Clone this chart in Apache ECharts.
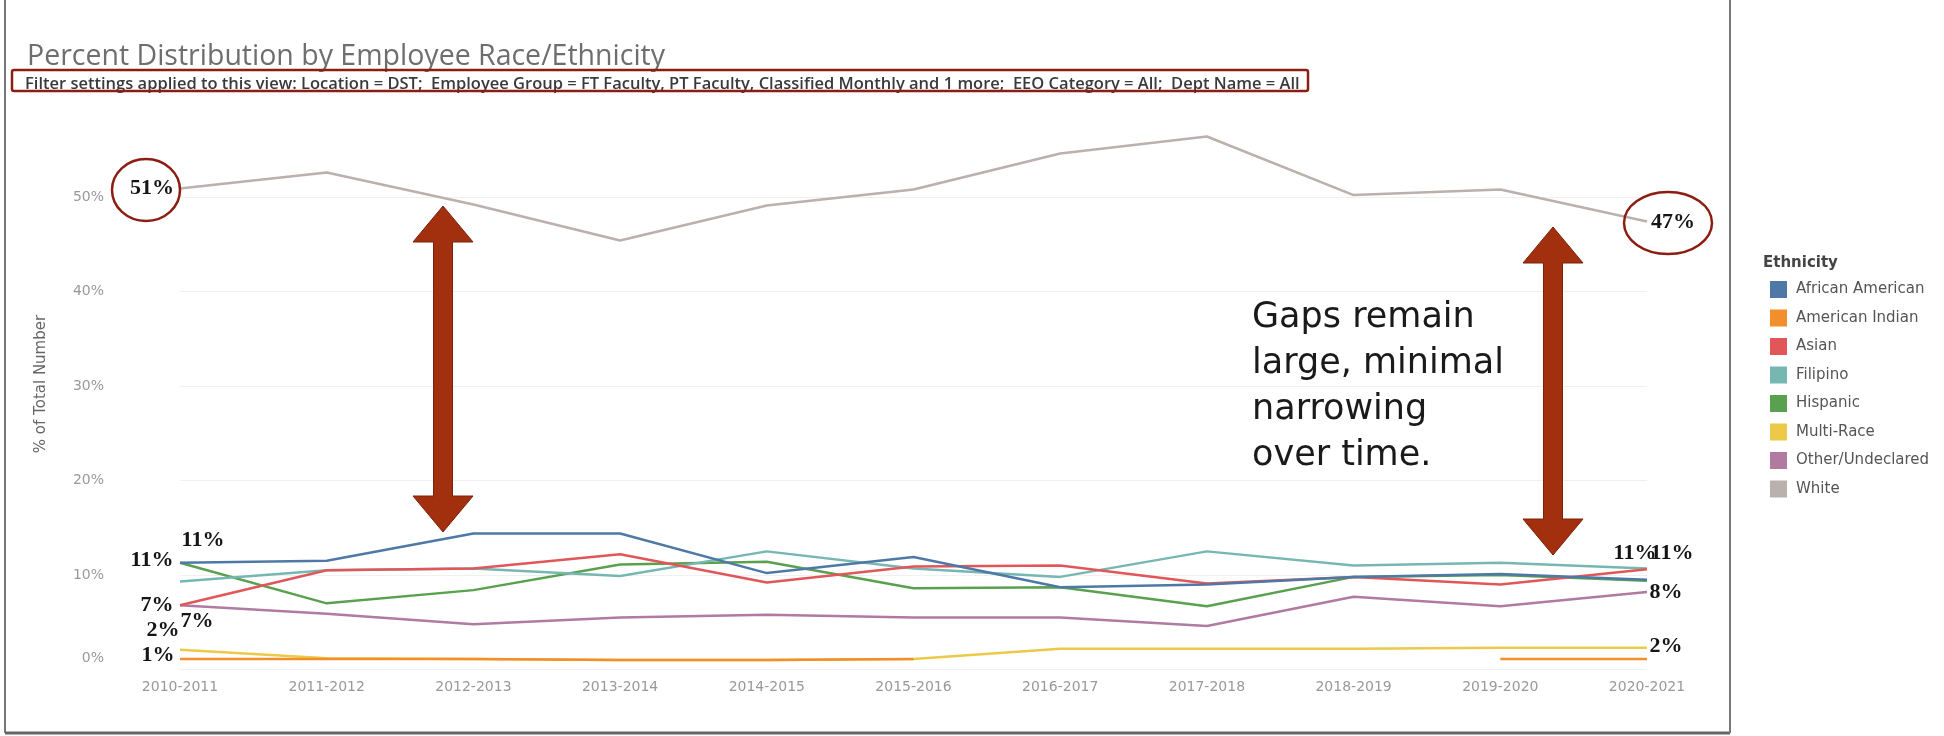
<!DOCTYPE html>
<html>
<head>
<meta charset="utf-8">
<script src="https://cdn.jsdelivr.net/npm/echarts@6/dist/echarts.min.js"></script>
<style>
  html, body { margin: 0; padding: 0; background: #fff; }
  #chart { width: 1944px; height: 736px; }
</style>
</head>
<body>
<div id="chart"></div>
<script>
// school years on the x axis
const years = ['2010-2011', '2011-2012', '2012-2013', '2013-2014', '2014-2015', '2015-2016',
  '2016-2017', '2017-2018', '2018-2019', '2019-2020', '2020-2021'];

// percent of total
const africanAmerican = [11.3, 11.5, 14.4, 14.4, 10.2, 11.9, 8.7, 9.0, 9.8, 10.1, 9.5];
const americanIndian = [1.1, 1.1, 1.1, 1.0, 1.0, 1.1, null, null, null, 1.1, 1.1];
const asian = [6.8, 10.5, 10.7, 12.2, 9.2, 10.9, 11.0, 9.1, 9.8, 9.0, 10.6];
const filipino = [9.3, 10.5, 10.7, 9.9, 12.5, 10.7, 9.8, 12.5, 11.0, 11.3, 10.7];
const hispanic = [11.3, 7.0, 8.4, 11.1, 11.4, 8.6, 8.7, 6.7, 9.8, 10.0, 9.4];
const multiRace = [2.1, 1.2, 1.1, 1.0, 1.0, 1.1, 2.2, 2.2, 2.2, 2.3, 2.3];
const otherUndeclared = [6.8, 5.9, 4.8, 5.5, 5.8, 5.5, 5.5, 4.6, 7.7, 6.7, 8.2];
const white = [50.9, 52.6, 49.2, 45.4, 49.1, 50.8, 54.6, 56.4, 50.2, 50.8, 47.4];

const yTicks = [0, 10, 20, 30, 40, 50];

const legendNames = ['African American', 'American Indian', 'Asian', 'Filipino',
  'Hispanic', 'Multi-Race', 'Other/Undeclared', 'White'];

const colors = {
  'African American': '#4e79a7',
  'American Indian': '#f28e2b',
  'Asian': '#e15759',
  'Filipino': '#76b7b2',
  'Hispanic': '#59a14f',
  'Multi-Race': '#edc948',
  'Other/Undeclared': '#b07aa1',
  'White': '#bab0ac'
};

// hand placed value callouts: [index, dx, dy]
const callouts = {
  'White': [[0, -28, 0], [10, 26, 1]],
  'Hispanic': [[0, -28, -2]],
  'African American': [[0, 23, -22]],
  'Asian': [[0, -23, 0], [10, -12, -16]],
  'Other/Undeclared': [[0, 17, 16], [10, 19, 0]],
  'Multi-Race': [[0, -17, -19], [10, 19, -1]],
  'American Indian': [[0, -22, -4]],
  'Filipino': [[10, 25, -15]]
};

// drawing order: later ones sit on top
const drawOrder = [
  ['White', white],
  ['Other/Undeclared', otherUndeclared],
  ['Multi-Race', multiRace],
  ['Hispanic', hispanic],
  ['Filipino', filipino],
  ['Asian', asian],
  ['American Indian', americanIndian],
  ['African American', africanAmerican]
];

const chart = echarts.init(document.getElementById('chart'));

function buildSeries(name, values) {
  const marks = callouts[name] || [];
  const data = values.map((v, i) => {
    const m = marks.find(c => c[0] === i);
    if (!m || v == null) return v;
    return {
      value: v,
      label: { show: true, position: 'inside', offset: [m[1], m[2]] }
    };
  });
  return {
    name: name,
    type: 'line',
    data: data,
    color: colors[name],
    symbol: 'circle',
    symbolSize: 0,
    showSymbol: true,
    lineStyle: { width: 2.5, color: colors[name] },
    emphasis: { disabled: true },
    label: {
      show: false,
      fontFamily: 'Liberation Serif',
      fontWeight: 'bold',
      fontSize: 22,
      color: '#151515',
      formatter: p => Math.round(p.value) + '%'
    }
  };
}

function arrow(cx, top, bottom) {
  const hw = 30, hl = 36, sw = 9.5;
  return {
    type: 'polygon',
    shape: {
      points: [
        [cx, top], [cx + hw, top + hl], [cx + sw, top + hl], [cx + sw, bottom - hl],
        [cx + hw, bottom - hl], [cx, bottom], [cx - hw, bottom - hl], [cx - sw, bottom - hl],
        [cx - sw, top + hl], [cx - hw, top + hl]
      ]
    },
    style: { fill: '#a2300f', stroke: '#7c220a', lineWidth: 1 },
    z: 20
  };
}

const option = {
  animation: false,
  backgroundColor: '#fff',
  title: {
    text: 'Percent Distribution by Employee Race/Ethnicity',
    left: 22,
    top: 37,
    textStyle: { fontFamily: 'Open Sans', fontSize: 28.5, fontWeight: 'normal', color: '#6e6e6e' }
  },
  legend: {
    data: legendNames,
    orient: 'vertical',
    left: 1765,
    top: 276,
    icon: 'rect',
    itemWidth: 17,
    itemHeight: 17,
    itemGap: 11.5,
    selectedMode: false,
    textStyle: { fontFamily: 'DejaVu Sans', fontSize: 15, color: '#555', padding: [0, 0, 0, 4] }
  },
  grid: { left: 180, right: 297, top: 130.85, bottom: 66.5 },
  xAxis: {
    type: 'category',
    data: years,
    boundaryGap: false,
    axisLine: { show: false },
    axisTick: { show: false },
    axisLabel: { margin: 11, fontFamily: 'DejaVu Sans', fontSize: 14, color: '#999' }
  },
  yAxis: {
    type: 'value',
    min: 0,
    max: 57,
    interval: 10,
    axisLine: { show: false },
    axisTick: { show: false },
    splitLine: { show: true, showMaxLine: false, lineStyle: { color: '#f0f0f0', width: 1 } },
    axisLabel: {
      margin: 76,
      fontFamily: 'DejaVu Sans',
      fontSize: 14,
      color: '#999',
      formatter: v => {
        if (yTicks.indexOf(v) < 0) return '';
        return v === 0 ? '{z|0%}' : v + '%';
      },
      rich: { z: { fontFamily: 'DejaVu Sans', fontSize: 14, color: '#999', padding: [0, 0, 22, 0] } }
    }
  },
  graphic: [
    // chart frame
    { type: 'line', shape: { x1: 5, y1: 0, x2: 5, y2: 733 }, style: { stroke: '#777', lineWidth: 2 } },
    { type: 'line', shape: { x1: 5, y1: 733, x2: 1730, y2: 733 }, style: { stroke: '#666', lineWidth: 3 } },
    { type: 'line', shape: { x1: 1730, y1: 0, x2: 1730, y2: 733 }, style: { stroke: '#777', lineWidth: 2 } },
    // filter note and its box
    {
      type: 'text', x: 25, y: 84,
      style: {
        text: 'Filter settings applied to this view: Location = DST;  Employee Group = FT Faculty, PT Faculty, Classified Monthly and 1 more;  EEO Category = All;  Dept Name = All',
        fontFamily: 'Open Sans', fontSize: 16.5, fontWeight: 600, fill: '#3a3a3a', verticalAlign: 'middle'
      }
    },
    {
      type: 'rect', shape: { x: 12, y: 70, width: 1296, height: 21, r: 2 },
      style: { fill: 'none', stroke: '#8b1d12', lineWidth: 2.5 }, z: 10
    },
    // y axis title
    {
      type: 'text', x: 41, y: 384, rotation: Math.PI / 2,
      style: {
        text: '% of Total Number', fontFamily: 'DejaVu Sans', fontSize: 15, fill: '#666',
        align: 'center', verticalAlign: 'middle'
      }
    },
    // legend title
    {
      type: 'text', x: 1763, y: 263,
      style: { text: 'Ethnicity', fontFamily: 'DejaVu Sans', fontSize: 15, fontWeight: 'bold', fill: '#444', verticalAlign: 'middle' }
    },
    // annotations
    { type: 'ellipse', shape: { cx: 146, cy: 190, rx: 34, ry: 31 }, style: { fill: 'none', stroke: '#8b1d12', lineWidth: 2.5 }, z: 20 },
    { type: 'ellipse', shape: { cx: 1668, cy: 223, rx: 44, ry: 31 }, style: { fill: 'none', stroke: '#8b1d12', lineWidth: 2.5 }, z: 20 },
    arrow(443, 206, 532),
    arrow(1553, 227, 555),
    {
      type: 'text', x: 1252, y: 295,
      style: {
        text: 'Gaps remain\nlarge, minimal\nnarrowing\nover time.',
        fontFamily: 'DejaVu Sans', fontSize: 35, lineHeight: 46, fill: '#1a1a1a'
      },
      z: 20
    }
  ],
  series: drawOrder.map(d => buildSeries(d[0], d[1]))
};

chart.setOption(option);
</script>
</body>
</html>
